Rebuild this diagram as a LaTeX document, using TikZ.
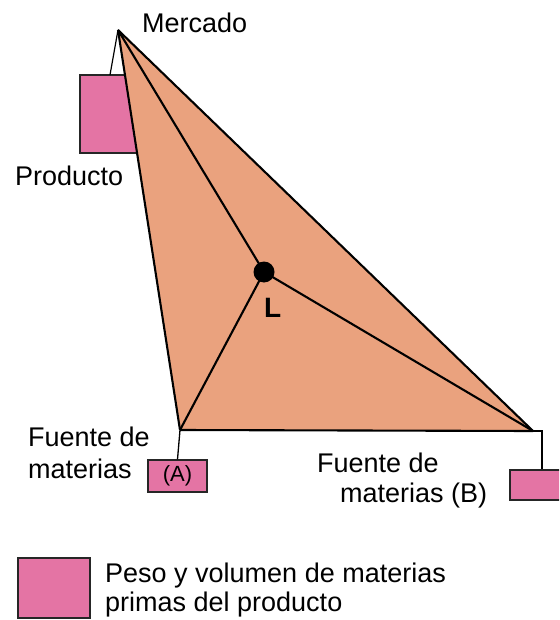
\documentclass[tikz,border=0pt]{standalone}
\usepackage{fontspec}
\setmainfont{Liberation Sans}
\usepackage{tikz}

\definecolor{peach}{RGB}{234,162,126}
\definecolor{rosa}{RGB}{228,116,164}

\tikzset{
  lbl/.style={anchor=base west,inner sep=0pt,font=\fontsize{27}{30}\selectfont},
  peso/.style={draw=black!85,line width=1.3pt,fill=rosa,inner sep=0pt},
  edge/.style={line width=2.1pt,line join=round}
}

\begin{document}
\begin{tikzpicture}
[x=1pt,y=-1pt]
\clip (0,0) rectangle (559,620);
\fill[white] (0,0) rectangle (559,620);

\coordinate (m) at (118,30);
\coordinate (a) at (180,430);
\coordinate (b) at (533,431);
\coordinate (l) at (264,272);
\coordinate (hook) at (110,75);

% cajas de peso
\node[peso,minimum width=57pt,minimum height=78pt] (bp) at (108.5,114) {};
\node[peso,minimum width=59pt,minimum height=32pt,font=\fontsize{22}{26}\selectfont] (ba) at (177.5,476) {(A)};
\node[peso,minimum width=64pt,minimum height=30pt] (bb) at (542,485) {};
\node[peso,minimum width=72pt,minimum height=60pt] (leg) at (54,588) {};

\fill[peach] (m) -- (a) -- (b) -- cycle;
\draw[line width=1.2pt] (m) -- (hook);

\foreach \from/\to in {m/a,a/b,b/m,m/l,a/l,b/l}
\draw[edge] (\from) -- (\to);

\draw[line width=1.3pt] (a) -- (ba.north);
\draw[line width=1.3pt] (b) -| (bb.north);

\fill (l) circle (10.5);

\node[lbl] (t1) at (142,33) {Mercado};
\node[lbl] (t2) at (15,186) {Producto};
\node[lbl,font=\fontsize{28}{30}\selectfont\bfseries] (t3) at (264,317) {L};
\node[lbl] (t4) at (28,446) {Fuente de};
\node[lbl] (t5) at (28,478) {materias};
\node[lbl] (t6) at (317,472) {Fuente de};
\node[lbl] (t7) at (340,502) {materias (B)};
\node[lbl] (t8) at (105,582) {Peso y volumen de materias};
\node[lbl] (t9) at (105,611) {primas del producto};
\end{tikzpicture}
\end{document}
